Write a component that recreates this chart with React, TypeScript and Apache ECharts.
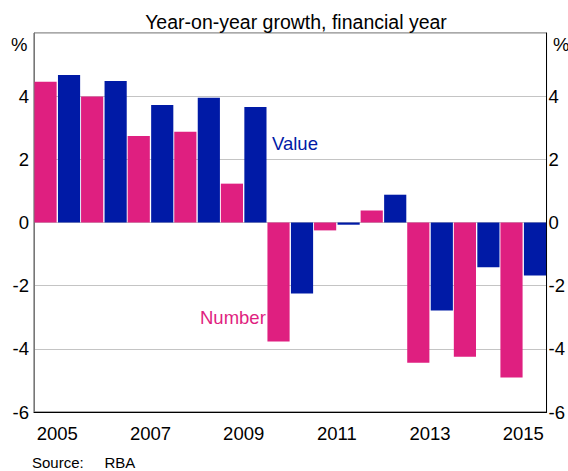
import React, { useEffect, useRef } from "react";
import * as echarts from "echarts";

const years = ["2005", "2006", "2007", "2008", "2009", "2010", "2011", "2012", "2013", "2014", "2015"];
const numberGrowth = [4.46, 3.99, 2.74, 2.87, 1.23, -3.77, -0.25, 0.38, -4.44, -4.25, -4.91];
const valueGrowth = [4.67, 4.48, 3.72, 3.95, 3.66, -2.25, -0.07, 0.88, -2.79, -1.42, -1.68];
const yTicks = [-6, -4, -2, 0, 2, 4, 6];

const PINK = "#DF1F80";
const BLUE = "#001AA6";
const FONT = "Liberation Sans, Arial, sans-serif";

export default function App() {
  const ref = useRef<HTMLDivElement>(null);
  useEffect(() => {
    document.body.style.margin = "0";
    const chart = echarts.init(ref.current!, null, { renderer: "svg" });
    const yMin = yTicks[0];
    const yMax = yTicks[yTicks.length - 1];
    const yLabel = (v: number) => (v === yMax ? "" : String(v));
    chart.setOption({
      animation: false,
      textStyle: { fontFamily: FONT },
      title: {
        text: "Year-on-year growth, financial year",
        left: 291,
        top: 7,
        textAlign: "center",
        textStyle: { fontSize: 19.5, fontWeight: "normal", color: "#000", fontFamily: FONT },
      },
      grid: {
        left: 34,
        right: 17,
        top: 33,
        bottom: 59,
        show: true,
        borderColor: "#555",
        borderWidth: 1,
      },
      xAxis: {
        type: "category",
        data: years,
        axisLine: { onZero: false, lineStyle: { color: "#000", width: 1.2 } },
        axisTick: { inside: true, length: 8, interval: 0, alignWithLabel: false, lineStyle: { color: "#000" } },
        axisLabel: { interval: 1, color: "#000", fontSize: 18.5, margin: 12, fontFamily: FONT },
      },
      yAxis: [
        {
          type: "value",
          min: yMin,
          max: yMax,
          interval: 2,
          axisLine: { show: true, lineStyle: { color: "#777" } },
          axisTick: { show: false },
          splitLine: { lineStyle: { color: "#C4C4C4", width: 1.2 } },
          axisLabel: { formatter: yLabel, color: "#000", fontSize: 18.5, margin: 5, fontFamily: FONT },
        },
        {
          type: "value",
          position: "right",
          min: yMin,
          max: yMax,
          interval: 2,
          axisLine: { show: true, lineStyle: { color: "#000" } },
          axisTick: { show: false },
          splitLine: { show: false },
          axisLabel: { formatter: yLabel, color: "#000", fontSize: 18.5, margin: 2, fontFamily: FONT },
        },
      ],
      series: [
        {
          name: "Number",
          type: "bar",
          data: numberGrowth,
          barGap: "6%",
          barCategoryGap: "2%",
          itemStyle: { color: PINK },
        },
        {
          name: "Value",
          type: "bar",
          data: valueGrowth,
          barGap: "6%",
          barCategoryGap: "2%",
          itemStyle: { color: BLUE },
        },
      ],
      graphic: [
        { type: "text", left: 11, top: 35, style: { text: "%", fontSize: 18.5, fill: "#000", fontFamily: FONT } },
        { type: "text", left: 553, top: 35, style: { text: "%", fontSize: 18.5, fill: "#000", fontFamily: FONT } },
        { type: "text", left: 272, top: 134, style: { text: "Value", fontSize: 18.5, fill: BLUE, fontFamily: FONT } },
        { type: "text", left: 200, top: 308, style: { text: "Number", fontSize: 18.5, fill: PINK, fontFamily: FONT } },
        { type: "text", left: 32, top: 455, style: { text: "Source:     RBA", fontSize: 15, fill: "#000", fontFamily: FONT } },
      ],
    });
    return () => chart.dispose();
  }, []);
  return <div ref={ref} style={{ width: 568, height: 471 }} />;
}
